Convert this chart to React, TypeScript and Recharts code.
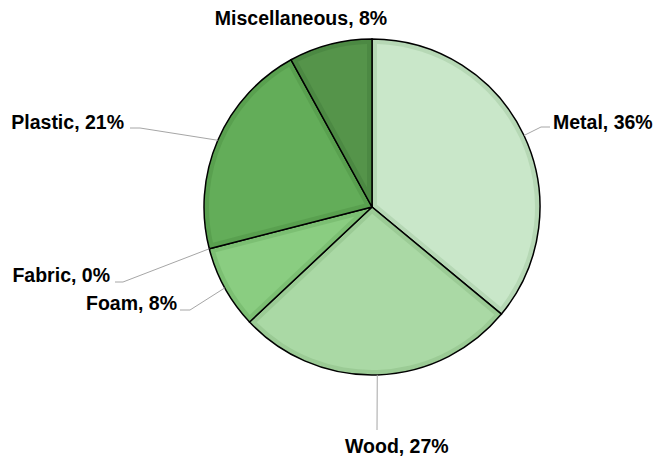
import React from 'react';
import { PieChart, Pie, Cell } from 'recharts';

const categories = ['Metal', 'Wood', 'Foam', 'Fabric', 'Plastic', 'Miscellaneous'];
const shares = [36, 27, 8, 0, 21, 8];

const fillColors = ['#c9e7c9', '#aad9a5', '#8acd81', '#78c070', '#63ad59', '#55944a'];
const rimColors = ['#b6d8b5', '#9bcb95', '#7cbf73', '#6cb164', '#59a04f', '#4c8943'];

const data = categories.map((name, i) => ({ name, value: shares[i] }));

// label layout (text anchor and leader-line elbow points), per category
const labelLayout: Record<string, { tx: number; ty: number; anchor: 'start' | 'end' | 'middle'; pts: [number, number][] }> = {
  Metal: { tx: 553, ty: 129, anchor: 'start', pts: [[541, 127], [550, 127]] },
  Wood: { tx: 345, ty: 453, anchor: 'start', pts: [[377, 430]] },
  Foam: { tx: 177, ty: 310, anchor: 'end', pts: [[190, 310], [180, 310]] },
  Fabric: { tx: 110, ty: 282, anchor: 'end', pts: [[123, 282], [115, 282]] },
  Plastic: { tx: 124, ty: 129, anchor: 'end', pts: [[140, 128], [130, 128]] },
  Miscellaneous: { tx: 301, ty: 25, anchor: 'middle', pts: [] },
};

const RAD = Math.PI / 180;
const INSET = 5;

function insetPath(cx: number, cy: number, r: number, s: number, e: number): string | null {
  const theta = Math.abs(s - e);
  if (theta < 1) return null;
  const sign = s > e ? 1 : -1;
  const mid = (s + e) / 2;
  const apexDist = INSET / Math.sin((theta / 2) * RAD);
  const rr = r - INSET;
  const delta = Math.asin(INSET / rr) / RAD;
  const a1 = s - sign * delta;
  const a2 = e + sign * delta;
  const pt = (rad: number, ang: number) => [cx + rad * Math.cos(-ang * RAD), cy + rad * Math.sin(-ang * RAD)];
  const [ax, ay] = pt(apexDist, mid);
  const [x1, y1] = pt(rr, a1);
  const [x2, y2] = pt(rr, a2);
  const large = Math.abs(a1 - a2) > 180 ? 1 : 0;
  const sweep = sign > 0 ? 1 : 0;
  return `M${ax},${ay} L${x1},${y1} A${rr},${rr} 0 ${large} ${sweep} ${x2},${y2} Z`;
}

const renderLabel = (props: any) => {
  const { cx, cy, midAngle, outerRadius, startAngle, endAngle, name, value, index } = props;
  const layout = labelLayout[name];
  const ex = cx + outerRadius * Math.cos(-midAngle * RAD);
  const ey = cy + outerRadius * Math.sin(-midAngle * RAD);
  const d = insetPath(cx, cy, outerRadius, startAngle, endAngle);
  const linePts = layout.pts.length ? [[ex, ey], ...layout.pts].map((p) => p.join(',')).join(' ') : null;
  return (
    <g key={`lbl-${index}`}>
      {d && <path d={d} fill={fillColors[index]} stroke="none" />}
      {linePts && <polyline points={linePts} fill="none" stroke="#a6a6a6" strokeWidth={1} />}
      <text
        x={layout.tx}
        y={layout.ty}
        textAnchor={layout.anchor}
        fill="#000"
        fontFamily="'Liberation Sans', Arial, sans-serif"
        fontWeight="bold"
        fontSize={19.5}
      >
        {`${name}, ${value}%`}
      </text>
    </g>
  );
};

export default function App() {
  return (
    <div style={{ position: 'absolute', left: 0, top: 0, width: 661, height: 457, background: '#fff' }}>
      <PieChart width={661} height={457} margin={{ top: 0, right: 0, bottom: 0, left: 0 }}>
        <Pie
          data={data}
          dataKey="value"
          nameKey="name"
          cx={372}
          cy={207}
          outerRadius={168}
          startAngle={90}
          endAngle={-270}
          stroke="#000"
          strokeWidth={1.5}
          label={renderLabel}
          labelLine={false}
          isAnimationActive={false}
        >
          {data.map((d, i) => (
            <Cell key={d.name} fill={rimColors[i]} />
          ))}
        </Pie>
      </PieChart>
    </div>
  );
}
